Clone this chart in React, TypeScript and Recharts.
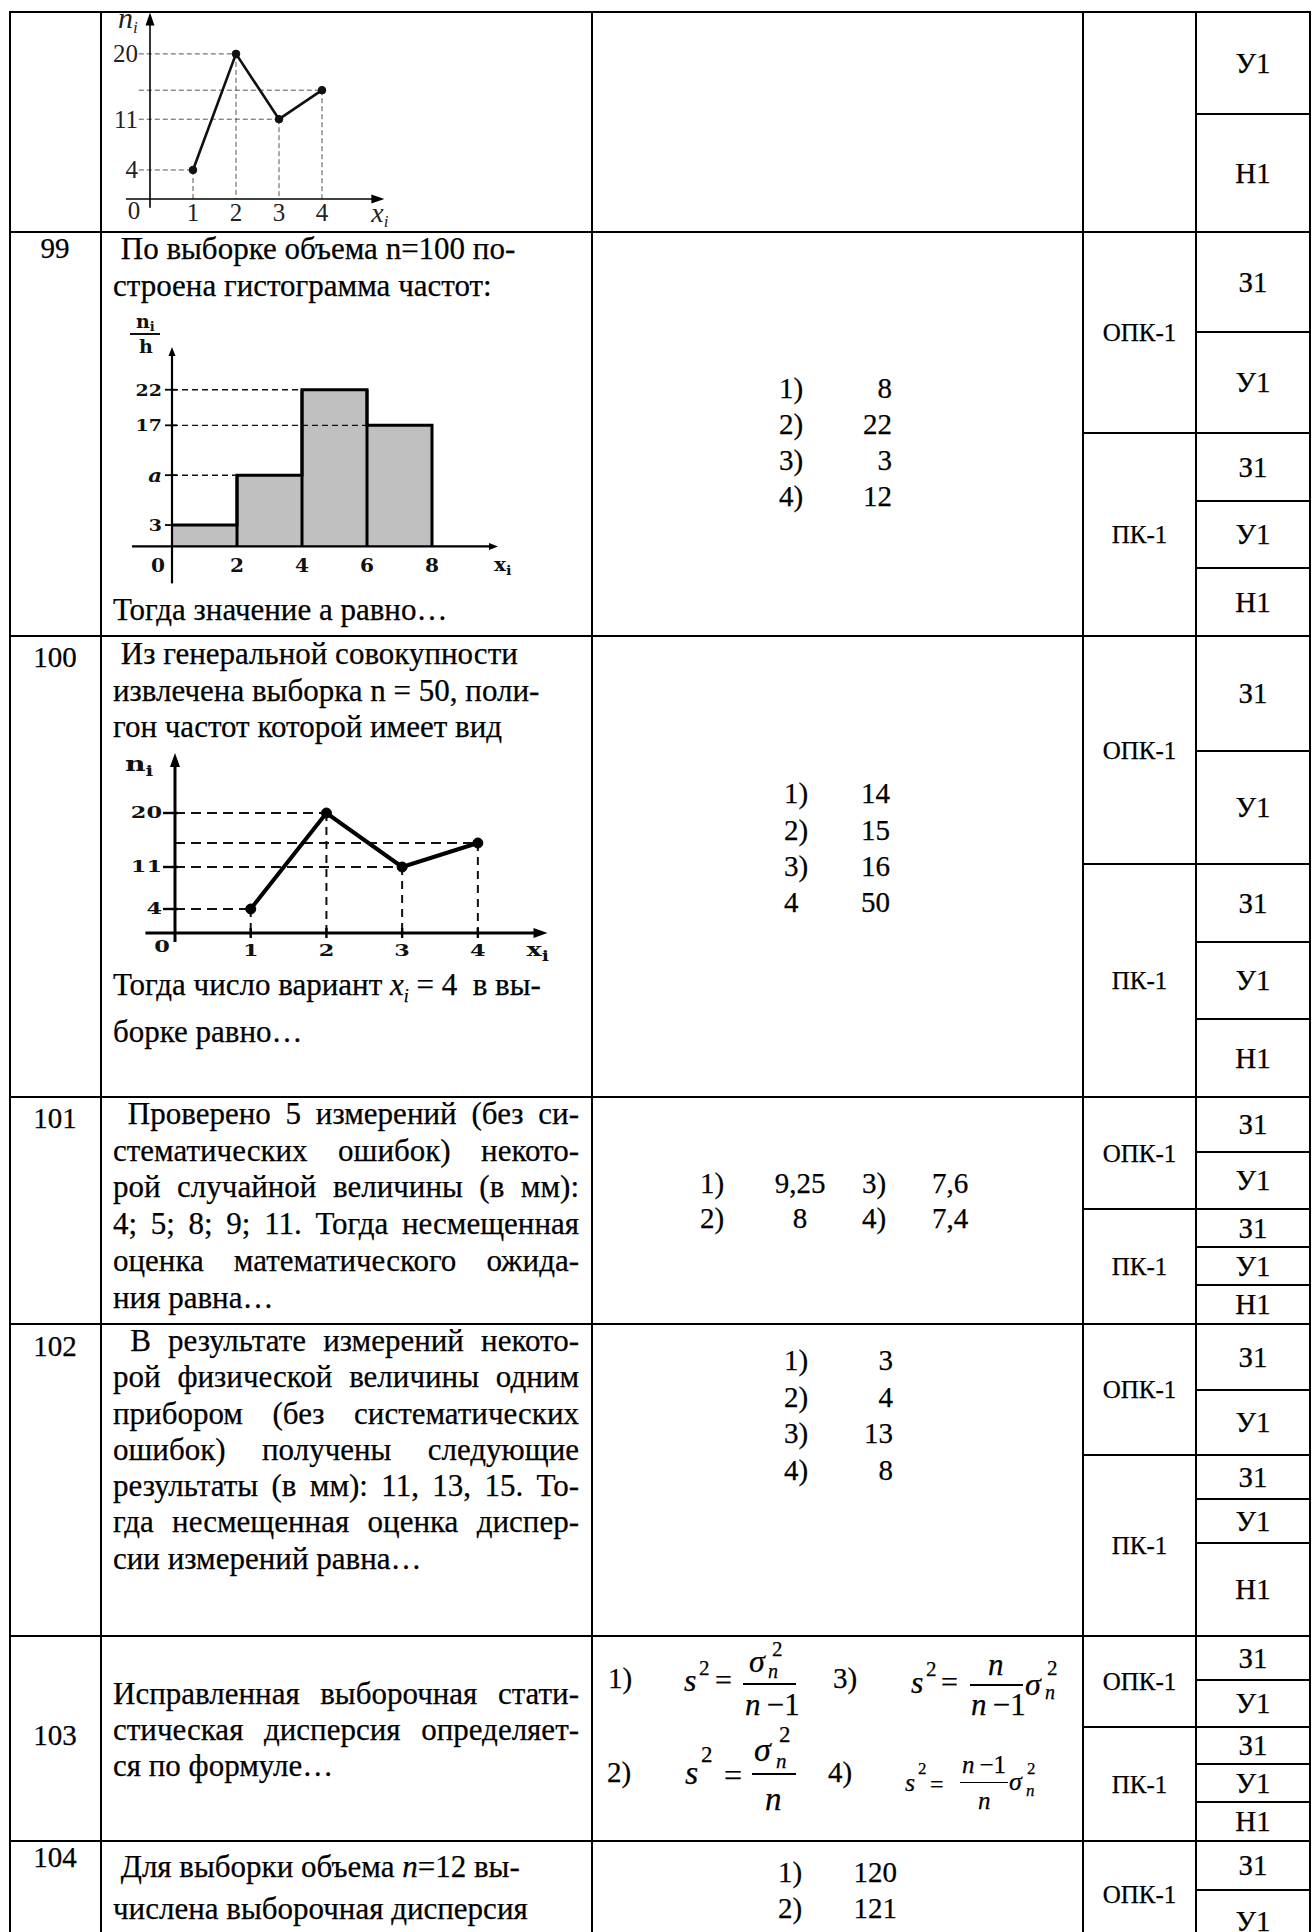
import React from 'react';
import { LineChart, Line, ComposedChart, Area, XAxis, YAxis, ReferenceLine } from 'recharts';

// polygon at the top of the page (tail of the previous question)
const topXs = [1, 2, 3, 4];
const topFreq = [4, 20, 11, 15];
const topYTicks = [4, 11, 20];
const topXTicks = [0, 1, 2, 3, 4];

// question 99: histogram with bins of width 2
const histEdges = [0, 2, 4, 6, 8];
const histHeights = [3, 10, 22, 17]; // second bar is the unknown "a"
const histYTicks = [3, 10, 17, 22];
const histYLabels = ['3', 'a', '17', '22'];

// question 100: frequency polygon
const polyXs = [1, 2, 3, 4];
const polyFreq = [4, 20, 11, 15];
const polyYTicks = [4, 11, 20];
const polyXTicks = [0, 1, 2, 3, 4];

// table grid
const colX = [9, 100, 591, 1082, 1195, 1309];
const rowTops = [11, 231, 635, 1096, 1323, 1635, 1840];
const rowNums = ['99', '100', '101', '102', '103', '104'];
const rowNumY = [248, 657, 1118, 1346, 1735, 1857];

const compCells: [number, number, string][] = [
  [231, 432, 'ОПК-1'], [432, 635, 'ПК-1'],
  [635, 863, 'ОПК-1'], [863, 1096, 'ПК-1'],
  [1096, 1208, 'ОПК-1'], [1208, 1323, 'ПК-1'],
  [1323, 1454, 'ОПК-1'], [1454, 1635, 'ПК-1'],
  [1635, 1726, 'ОПК-1'], [1726, 1840, 'ПК-1'],
  [1840, 1946, 'ОПК-1'],
];
const levelCells: [number, number, string][] = [
  [11, 113, 'У1'], [113, 231, 'Н1'],
  [231, 331, 'З1'], [331, 432, 'У1'], [432, 500, 'З1'], [500, 567, 'У1'], [567, 635, 'Н1'],
  [635, 750, 'З1'], [750, 863, 'У1'], [863, 941, 'З1'], [941, 1018, 'У1'], [1018, 1096, 'Н1'],
  [1096, 1151, 'З1'], [1151, 1208, 'У1'], [1208, 1246, 'З1'], [1246, 1284, 'У1'], [1284, 1323, 'Н1'],
  [1323, 1389, 'З1'], [1389, 1454, 'У1'], [1454, 1498, 'З1'], [1498, 1542, 'У1'], [1542, 1635, 'Н1'],
  [1635, 1679, 'З1'], [1679, 1726, 'У1'], [1726, 1763, 'З1'], [1763, 1801, 'У1'], [1801, 1840, 'Н1'],
  [1840, 1889, 'З1'], [1889, 1951, 'У1'],
];

// answer options
const ans99 = [['1)', '8'], ['2)', '22'], ['3)', '3'], ['4)', '12']];
const ans99Y = [388, 424, 460, 496];
const ans100 = [['1)', '14'], ['2)', '15'], ['3)', '16'], ['4', '50']];
const ans100Y = [793, 830, 866, 902];
const ans101 = [['1)', '9,25', '3)', '7,6'], ['2)', '8', '4)', '7,4']];
const ans101Y = [1183, 1218];
const ans102 = [['1)', '3'], ['2)', '4'], ['3)', '13'], ['4)', '8']];
const ans102Y = [1360, 1397, 1433, 1470];
const ans104 = [['1)', '120'], ['2)', '121']];
const ans104Y = [1872, 1908];

const SERIF = "'Liberation Serif', 'Times New Roman', serif";
const BOLD = "'DejaVu Serif', serif";

type ArrowOpts = { head: number; half: number; sw: number; label?: (x: number, y: number) => React.ReactNode };
const arrowShape = (o: ArrowOpts) => (p: any) => {
  const { x1, y1, x2, y2 } = p;
  const dx = x2 - x1;
  const dy = y2 - y1;
  const len = Math.hypot(dx, dy) || 1;
  const ux = dx / len;
  const uy = dy / len;
  const bx = x2 - ux * o.head;
  const by = y2 - uy * o.head;
  return (
    <g>
      <line x1={x1} y1={y1} x2={bx + ux * 2} y2={by + uy * 2} stroke="#000" strokeWidth={o.sw} />
      <polygon
        points={`${x2},${y2} ${bx - uy * o.half},${by + ux * o.half} ${bx + uy * o.half},${by - ux * o.half}`}
        fill="#000"
      />
      {o.label ? o.label(x2, y2) : null}
    </g>
  );
};

// ---------- top polygon ----------
const TopYTick = (p: any) => (
  <text x={p.x - 12} y={p.y} textAnchor="end" dominantBaseline="central" fontFamily={SERIF} fontSize={25} fill="#222">
    {p.payload.value}
  </text>
);
const TopXTick = (p: any) => {
  const v = p.payload.value;
  return (
    <text x={v === 0 ? p.x - 16 : p.x} y={p.y + (v === 0 ? 11 : 13)} textAnchor="middle" dominantBaseline="central"
      fontFamily={SERIF} fontSize={25} fill="#222">
      {v}
    </text>
  );
};

function TopPolygon() {
  const data = topXs.map((x, i) => ({ x, n: topFreq[i] }));
  return (
    <LineChart width={327} height={250} data={data} margin={{ top: 30, right: 40.5, bottom: 0, left: 0 }}>
      <XAxis dataKey="x" type="number" domain={[0, 5.5]} ticks={topXTicks} interval={0} axisLine={false}
        tickLine={false} tickSize={0} tickMargin={0} height={35} tick={(p: any) => <TopXTick {...p} />} allowDataOverflow />
      <YAxis type="number" domain={[0, 25.5]} ticks={topYTicks} interval={0} axisLine={false}
        tickLine={false} tickSize={0} tickMargin={0} width={50} tick={(p: any) => <TopYTick {...p} />} allowDataOverflow />
      {data.map((d) => (
        <ReferenceLine key={'h' + d.x} segment={[{ x: -0.26, y: d.n }, { x: d.x, y: d.n }]} stroke="#555"
          strokeWidth={1} strokeDasharray="5 3" ifOverflow="visible" />
      ))}
      {data.map((d) => (
        <ReferenceLine key={'v' + d.x} segment={[{ x: d.x, y: d.n }, { x: d.x, y: 0 }]} stroke="#555"
          strokeWidth={1} strokeDasharray="5 3" ifOverflow="visible" />
      ))}
      <ReferenceLine segment={[{ x: -0.56, y: 0 }, { x: 5.45, y: 0 }]} ifOverflow="visible"
        shape={arrowShape({
          head: 13, half: 4.5, sw: 1.6,
          label: (x, y) => (
            <text x={x - 13} y={y + 23} fontFamily={SERIF} fontStyle="italic" fontSize={28} fill="#222">
              x<tspan fontSize={17} dy={5}>i</tspan>
            </text>
          ),
        })} />
      <ReferenceLine segment={[{ x: 0, y: -1.2 }, { x: 0, y: 25.7 }]} ifOverflow="visible"
        shape={arrowShape({
          head: 13, half: 4.5, sw: 1.6,
          label: (x, y) => (
            <text x={x - 32} y={y + 15} fontFamily={SERIF} fontStyle="italic" fontSize={30} fill="#222">
              n<tspan fontSize={17} dy={5}>i</tspan>
            </text>
          ),
        })} />
      <Line dataKey="n" type="linear" stroke="#111" strokeWidth={2.6} isAnimationActive={false}
        dot={{ r: 3.8, fill: '#111', stroke: '#111', strokeWidth: 1 }} activeDot={false} />
    </LineChart>
  );
}

// ---------- histogram ----------
const HistYTick = (p: any) => {
  const idx = histYTicks.indexOf(p.payload.value);
  const lab = histYLabels[idx];
  return (
    <g>
      <line x1={p.x - 7} y1={p.y} x2={p.x + 5} y2={p.y} stroke="#000" strokeWidth={1.8} />
      <text transform={`translate(${p.x - 10} ${p.y}) scale(1.12 1)`} textAnchor="end" dominantBaseline="central"
        fontFamily={BOLD} fontWeight="bold" fontStyle={lab === 'a' ? 'italic' : 'normal'}
        fontSize={lab === 'a' ? 19 : 17} fill="#111">
        {lab}
      </text>
    </g>
  );
};
const HistXTick = (p: any) => {
  const v = p.payload.value;
  return (
    <text transform={`translate(${v === 0 ? p.x - 14 : p.x} ${p.y + 19}) scale(1.12 1)`} textAnchor="middle"
      dominantBaseline="central" fontFamily={BOLD} fontWeight="bold" fontSize={18} fill="#111">
      {v}
    </text>
  );
};

function Histogram() {
  // step outline through the bin edges; the last edge closes the outline at zero
  const data = histEdges.map((e, i) => ({ x: e, h: i < histHeights.length ? histHeights[i] : 0 }));
  const inner = histEdges.slice(1, histHeights.length).map((e, i) => ({
    e, top: Math.max(histHeights[i], histHeights[i + 1]),
  }));
  const guides = histEdges.slice(0, histHeights.length).map((e, i) => ({ e, h: histHeights[i] })).filter((g) => g.e > 0);
  return (
    <ComposedChart width={415} height={284.4} data={data} margin={{ top: 45, right: 40, bottom: 0, left: 0 }}>
      <XAxis dataKey="x" type="number" domain={[0, 10]} ticks={histEdges} interval={0} axisLine={false}
        tickLine={false} tickSize={0} tickMargin={0} height={40} tick={(p: any) => <HistXTick {...p} />} allowDataOverflow />
      <YAxis type="number" domain={[0, 28]} ticks={histYTicks} interval={0} axisLine={false} tickLine={false}
        tickSize={0} tickMargin={0} width={50} tick={(p: any) => <HistYTick {...p} />} allowDataOverflow />
      <Area type="stepAfter" dataKey="h" stroke="#000" strokeWidth={3} fill="#c0c0c0" fillOpacity={1}
        baseValue={0} dot={false} activeDot={false} isAnimationActive={false} />
      {inner.map((b) => (
        <ReferenceLine key={'b' + b.e} segment={[{ x: b.e, y: 0 }, { x: b.e, y: b.top }]} stroke="#000"
          strokeWidth={3} ifOverflow="visible" />
      ))}
      {guides.map((g) => (
        <ReferenceLine key={'g' + g.e} segment={[{ x: 0, y: g.h }, { x: g.e, y: g.h }]} stroke="#111"
          strokeWidth={1.4} strokeDasharray="6 4" ifOverflow="visible" />
      ))}
      <ReferenceLine segment={[{ x: -1.23, y: 0 }, { x: 10.03, y: 0 }]} ifOverflow="visible"
        shape={arrowShape({
          head: 9, half: 3.5, sw: 2.2,
          label: (x, y) => (
            <text transform={`translate(${x - 4} ${y + 25}) scale(1.12 1)`} fontFamily={BOLD} fontWeight="bold"
              fontSize={18} fill="#111">
              x<tspan fontSize={13} dy={4}>i</tspan>
            </text>
          ),
        })} />
      <ReferenceLine segment={[{ x: 0, y: -5.2 }, { x: 0, y: 28 }]} ifOverflow="visible"
        shape={arrowShape({
          head: 9, half: 3.5, sw: 2.2,
          label: (x, y) => (
            <g fontFamily={BOLD} fontWeight="bold" fill="#111">
              <text x={x - 36} y={y - 19} fontSize={19}>
                n<tspan fontSize={13} dy={3}>i</tspan>
              </text>
              <line x1={x - 42} y1={y - 13} x2={x - 12} y2={y - 13} stroke="#111" strokeWidth={2} />
              <text x={x - 33} y={y + 6} fontSize={19}>h</text>
            </g>
          ),
        })} />
    </ComposedChart>
  );
}

// ---------- polygon (question 100) ----------
const PolyYTick = (p: any) => (
  <g>
    <line x1={p.x - 12} y1={p.y} x2={p.x + 3} y2={p.y} stroke="#000" strokeWidth={2.4} />
    <text transform={`translate(${p.x - 13} ${p.y}) scale(1.4 1)`} textAnchor="end" dominantBaseline="central"
      fontFamily={BOLD} fontWeight="bold" fontSize={16} fill="#111">
      {p.payload.value}
    </text>
  </g>
);
const PolyXTick = (p: any) => {
  const v = p.payload.value;
  return (
    <g>
      {v !== 0 && <line x1={p.x} y1={p.y - 5} x2={p.x} y2={p.y + 5} stroke="#000" strokeWidth={2.4} />}
      <text transform={`translate(${v === 0 ? p.x - 13 : p.x} ${p.y + (v === 0 ? 14 : 18)}) scale(1.4 1)`}
        textAnchor="middle" dominantBaseline="central" fontFamily={BOLD} fontWeight="bold" fontSize={16} fill="#111">
        {v}
      </text>
    </g>
  );
};

function Polygon() {
  const data = polyXs.map((x, i) => ({ x, n: polyFreq[i] }));
  return (
    <LineChart width={461} height={235} data={data} margin={{ top: 20, right: 35, bottom: 0, left: 0 }}>
      <XAxis dataKey="x" type="number" domain={[0, 4.9]} ticks={polyXTicks} interval={0} axisLine={false}
        tickLine={false} tickSize={0} tickMargin={0} height={35} tick={(p: any) => <PolyXTick {...p} />} allowDataOverflow />
      <YAxis type="number" domain={[0, 30]} ticks={polyYTicks} interval={0} axisLine={false} tickLine={false}
        tickSize={0} tickMargin={0} width={55} tick={(p: any) => <PolyYTick {...p} />} allowDataOverflow />
      {data.map((d) => (
        <ReferenceLine key={'h' + d.x} segment={[{ x: 0, y: d.n }, { x: d.x, y: d.n }]} stroke="#111"
          strokeWidth={2} strokeDasharray="10 6" ifOverflow="visible" />
      ))}
      {data.map((d) => (
        <ReferenceLine key={'v' + d.x} segment={[{ x: d.x, y: d.n }, { x: d.x, y: 0 }]} stroke="#111"
          strokeWidth={2} strokeDasharray="8 6" ifOverflow="visible" />
      ))}
      <ReferenceLine segment={[{ x: -0.39, y: 0 }, { x: 4.92, y: 0 }]} ifOverflow="visible"
        shape={arrowShape({
          head: 14, half: 5, sw: 3,
          label: (x, y) => (
            <text transform={`translate(${x - 21} ${y + 23}) scale(1.35 1)`} fontFamily={BOLD} fontWeight="bold"
              fontSize={19} fill="#111">
              x<tspan fontSize={14} dy={5}>i</tspan>
            </text>
          ),
        })} />
      <ReferenceLine segment={[{ x: 0, y: -1.5 }, { x: 0, y: 30 }]} ifOverflow="visible"
        shape={arrowShape({
          head: 14, half: 5, sw: 3,
          label: (x, y) => (
            <text transform={`translate(${x - 50} ${y + 18}) scale(1.35 1)`} fontFamily={BOLD} fontWeight="bold"
              fontSize={21} fill="#111">
              n<tspan fontSize={15} dy={5}>i</tspan>
            </text>
          ),
        })} />
      <Line dataKey="n" type="linear" stroke="#000" strokeWidth={4} isAnimationActive={false}
        dot={{ r: 5, fill: '#000', stroke: '#000', strokeWidth: 1 }} activeDot={false} />
    </LineChart>
  );
}

// ---------- page helpers ----------
function Rect({ x, y, w, h }: { x: number; y: number; w: number; h: number }) {
  return <div style={{ position: 'absolute', left: x, top: y, width: w, height: h, background: '#000' }} />;
}

function At({ x, cy, size = 29, align = 'left', italic = false, children }: {
  x: number; cy: number; size?: number; align?: 'left' | 'right' | 'center'; italic?: boolean; children: React.ReactNode;
}) {
  const tx = align === 'left' ? '0' : align === 'right' ? '-100%' : '-50%';
  return (
    <div style={{
      position: 'absolute', left: x, top: cy - size / 2, fontSize: size, lineHeight: 1, whiteSpace: 'nowrap',
      transform: `translateX(${tx})`, fontStyle: italic ? 'italic' : 'normal',
    }}>
      {children}
    </div>
  );
}

type Ln = { t: React.ReactNode; j?: boolean };
function Para({ top, lh, lines, x = 113, w = 466 }: { top: number; lh: number; lines: Ln[]; x?: number; w?: number }) {
  return (
    <div style={{ position: 'absolute', left: x, top, width: w, fontSize: 31, lineHeight: lh + 'px' }}>
      {lines.map((ln, i) => (
        <div key={i} style={{
          textAlign: ln.j ? 'justify' : 'left', textAlignLast: ln.j ? 'justify' : 'left',
          whiteSpace: ln.j ? 'normal' : 'nowrap',
        } as React.CSSProperties}>
          {ln.t}
        </div>
      ))}
    </div>
  );
}

function Cell({ y1, y2, x, w, size, text }: { y1: number; y2: number; x: number; w: number; size: number; text: string }) {
  return (
    <div style={{
      position: 'absolute', left: x, top: y1 + 2, width: w, height: y2 - y1 - 2, display: 'flex',
      alignItems: 'center', justifyContent: 'center', fontSize: size, lineHeight: 1,
    }}>
      {text}
    </div>
  );
}

const It = ({ children }: { children: React.ReactNode }) => <span style={{ fontStyle: 'italic' }}>{children}</span>;

function Formulas() {
  const bar = (x: number, y: number, w: number, h = 1.5) => (
    <div style={{ position: 'absolute', left: x, top: y, width: w, height: h, background: '#000' }} />
  );
  return (
    <>
      {/* 1) */}
      <At x={608} cy={1678}>1)</At>
      <At x={684} cy={1680} size={32} italic>s</At>
      <At x={699} cy={1668} size={21}>2</At>
      <At x={715} cy={1680} size={30}>=</At>
      {bar(743, 1683, 53)}
      <At x={749} cy={1661} size={32} italic>σ</At>
      <At x={772} cy={1649} size={21}>2</At>
      <At x={768} cy={1671} size={20} italic>n</At>
      <At x={745} cy={1704} size={31}><It>n</It>{'\u2009−1'}</At>
      {/* 3) */}
      <At x={833} cy={1678}>3)</At>
      <At x={911} cy={1682} size={32} italic>s</At>
      <At x={926} cy={1669} size={21}>2</At>
      <At x={941} cy={1682} size={30}>=</At>
      {bar(970, 1684, 53)}
      <At x={988} cy={1664} size={31} italic>n</At>
      <At x={971} cy={1704} size={31}><It>n</It>{'\u2009−1'}</At>
      <At x={1025} cy={1684} size={32} italic>σ</At>
      <At x={1047} cy={1668} size={21}>2</At>
      <At x={1045} cy={1692} size={20} italic>n</At>
      {/* 2) */}
      <At x={607} cy={1772}>2)</At>
      <At x={685} cy={1773} size={34} italic>s</At>
      <At x={701} cy={1754} size={23}>2</At>
      <At x={724} cy={1775} size={32}>=</At>
      {bar(752, 1773, 44)}
      <At x={754} cy={1750} size={34} italic>σ</At>
      <At x={779} cy={1734} size={23}>2</At>
      <At x={776} cy={1761} size={21} italic>n</At>
      <At x={765} cy={1799} size={33} italic>n</At>
      {/* 4) */}
      <At x={828} cy={1772}>4)</At>
      <At x={905} cy={1783} size={26} italic>s</At>
      <At x={918} cy={1768} size={17}>2</At>
      <At x={930} cy={1784} size={24}>=</At>
      {bar(960, 1782, 48, 1.3)}
      <At x={962} cy={1764} size={25}><It>n</It>{'\u2009−1'}</At>
      <At x={978} cy={1800} size={25} italic>n</At>
      <At x={1009} cy={1782} size={26} italic>σ</At>
      <At x={1027} cy={1768} size={17}>2</At>
      <At x={1026} cy={1790} size={17} italic>n</At>
    </>
  );
}

export default function App() {
  return (
    <div style={{
      position: 'absolute', left: 0, top: 0, width: 1315, height: 1932, overflow: 'hidden', background: '#fff',
      fontFamily: SERIF, color: '#000', WebkitTextStroke: '0.25px #000',
    } as React.CSSProperties}>
      {/* charts */}
      <div style={{ position: 'absolute', left: 101, top: 13, width: 490, height: 218, overflow: 'hidden' }}>
        <div style={{ position: 'absolute', left: -1, top: -29 }}>
          <TopPolygon />
        </div>
      </div>
      <div style={{ position: 'absolute', left: 122, top: 301.6 }}>
        <Histogram />
      </div>
      <div style={{ position: 'absolute', left: 119.5, top: 733 }}>
        <Polygon />
      </div>

      {/* row numbers */}
      {rowNums.map((n, i) => (
        <At key={n} x={55} cy={rowNumY[i]} align="center">{n}</At>
      ))}

      {/* question texts */}
      <Para top={230} lh={37} lines={[{ t: '\u00a0По выборке объема n=100 по-' }, { t: 'строена гистограмма частот:' }]} />
      <Para top={591} lh={37} lines={[{ t: 'Тогда значение а равно…' }]} />
      <Para top={636} lh={36.5} lines={[
        { t: '\u00a0Из генеральной совокупности' },
        { t: 'извлечена выборка n = 50, поли-' },
        { t: 'гон частот которой имеет вид' },
      ]} />
      <Para top={966} lh={37} lines={[{
        t: (
          <>
            Тогда число вариант{'\u00a0'}
            <It>x<span style={{ fontSize: 18, position: 'relative', top: 7 }}>i</span></It>
            {'\u00a0= 4\u00a0 в вы-'}
          </>
        ),
      }]} />
      <Para top={1013} lh={37} lines={[{ t: 'борке равно…' }]} />
      <Para top={1096} lh={36.7} lines={[
        { t: '\u00a0Проверено 5 измерений (без си-', j: true },
        { t: 'стематических ошибок) некото-', j: true },
        { t: 'рой случайной величины (в мм):', j: true },
        { t: '4; 5; 8; 9; 11. Тогда несмещенная', j: true },
        { t: 'оценка математического ожида-', j: true },
        { t: 'ния равна…' },
      ]} />
      <Para top={1323} lh={36.3} lines={[
        { t: '\u00a0В результате измерений некото-', j: true },
        { t: 'рой физической величины одним', j: true },
        { t: 'прибором (без систематических', j: true },
        { t: 'ошибок) получены следующие', j: true },
        { t: 'результаты (в мм): 11, 13, 15. То-', j: true },
        { t: 'гда несмещенная оценка диспер-', j: true },
        { t: 'сии измерений равна…' },
      ]} />
      <Para top={1676} lh={36} lines={[
        { t: 'Исправленная выборочная стати-', j: true },
        { t: 'стическая дисперсия определяет-', j: true },
        { t: 'ся по формуле…' },
      ]} />
      <Para top={1846} lh={42} lines={[
        { t: <>{'\u00a0Для выборки объема '}<It>n</It>=12 вы-</> },
        { t: 'числена выборочная дисперсия' },
      ]} />

      {/* answers */}
      {ans99.map((a, i) => (
        <React.Fragment key={'a99' + i}>
          <At x={779} cy={ans99Y[i]}>{a[0]}</At>
          <At x={892} cy={ans99Y[i]} align="right">{a[1]}</At>
        </React.Fragment>
      ))}
      {ans100.map((a, i) => (
        <React.Fragment key={'a100' + i}>
          <At x={784} cy={ans100Y[i]}>{a[0]}</At>
          <At x={890} cy={ans100Y[i]} align="right">{a[1]}</At>
        </React.Fragment>
      ))}
      {ans101.map((a, i) => (
        <React.Fragment key={'a101' + i}>
          <At x={700} cy={ans101Y[i]}>{a[0]}</At>
          <At x={800} cy={ans101Y[i]} align="center">{a[1]}</At>
          <At x={862} cy={ans101Y[i]}>{a[2]}</At>
          <At x={950} cy={ans101Y[i]} align="center">{a[3]}</At>
        </React.Fragment>
      ))}
      {ans102.map((a, i) => (
        <React.Fragment key={'a102' + i}>
          <At x={784} cy={ans102Y[i]}>{a[0]}</At>
          <At x={893} cy={ans102Y[i]} align="right">{a[1]}</At>
        </React.Fragment>
      ))}
      <Formulas />
      {ans104.map((a, i) => (
        <React.Fragment key={'a104' + i}>
          <At x={778} cy={ans104Y[i]}>{a[0]}</At>
          <At x={897} cy={ans104Y[i]} align="right">{a[1]}</At>
        </React.Fragment>
      ))}

      {/* competence and level columns */}
      {compCells.map(([y1, y2, t], i) => (
        <Cell key={'c' + i} y1={y1} y2={y2} x={1084} w={111} size={25} text={t} />
      ))}
      {levelCells.map(([y1, y2, t], i) => (
        <Cell key={'l' + i} y1={y1} y2={y2} x={1197} w={112} size={29} text={t} />
      ))}

      {/* grid lines */}
      {colX.map((x) => (
        <Rect key={'v' + x} x={x} y={11} w={2} h={1932 - 11} />
      ))}
      {rowTops.map((y) => (
        <Rect key={'r' + y} x={9} y={y} w={1302} h={2} />
      ))}
      {compCells.map(([y1], i) => (
        <Rect key={'cl' + i} x={1082} y={y1} w={229} h={2} />
      ))}
      {levelCells.map(([y1], i) => (
        <Rect key={'ll' + i} x={1195} y={y1} w={116} h={2} />
      ))}
    </div>
  );
}
